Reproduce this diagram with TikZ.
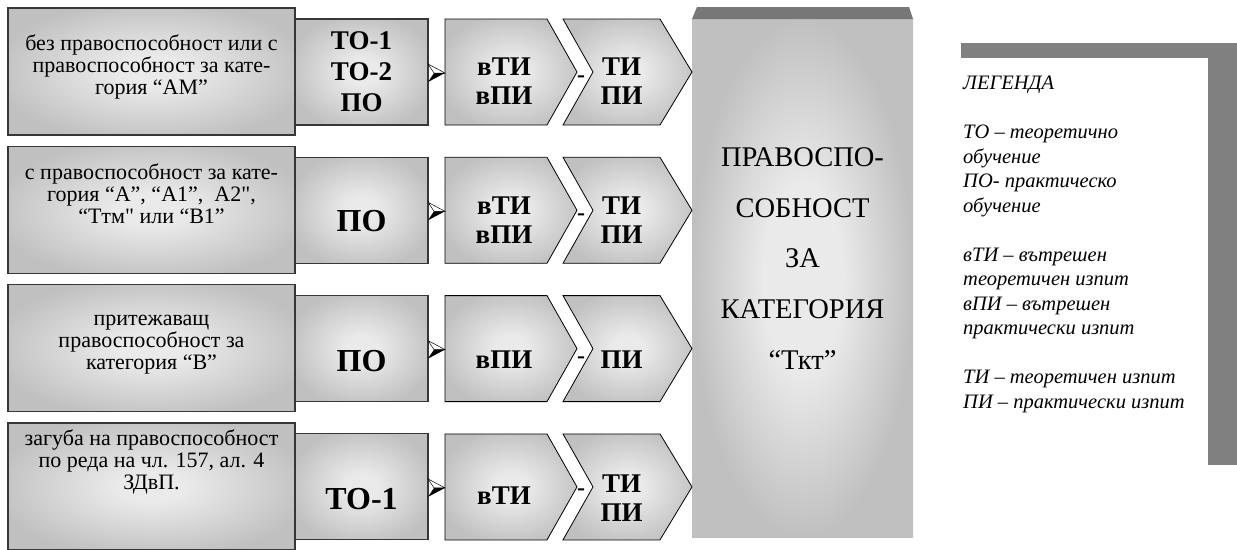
\documentclass[tikz,border=0pt]{standalone}
\usepackage{fontspec}
\setmainfont{Liberation Serif}
\newfontfamily\plainq{Liberation Serif}[Ligatures=TeXOff]
\usetikzlibrary{calc}
\definecolor{shdark}{RGB}{192,192,192}
\definecolor{shlight}{RGB}{234,234,234}
\definecolor{bordergray}{RGB}{55,55,55}
\definecolor{bandgray}{RGB}{119,119,119}
\definecolor{leggray}{RGB}{128,128,128}
\pgfdeclareradialshading{boxshade}{\pgfpoint{0bp}{0bp}}{color(0bp)=(shlight); color(6bp)=(shlight); color(28bp)=(shdark); color(50bp)=(shdark)}
\pgfdeclareradialshading{bigshade}{\pgfpoint{0bp}{0bp}}{color(0bp)=(shlight); color(9bp)=(shlight); color(25bp)=(shdark); color(50bp)=(shdark)}
\newcommand\chevA[1]{\shadedraw[shading=boxshade, draw=black, line width=0.8pt] (#1.north west) -- ([xshift=-30pt]#1.north east) -- (#1.east) -- ([xshift=-30pt]#1.south east) -- (#1.south west) -- cycle;}
\newcommand\chevB[1]{\shadedraw[shading=boxshade, draw=black, line width=0.8pt] (#1.north west) -- ([xshift=-32pt]#1.north east) -- (#1.east) -- ([xshift=-32pt]#1.south east) -- (#1.south west) -- ([xshift=30pt]#1.west) -- cycle;}
\newcommand\arrowhd[2]{%
  \filldraw[fill=white, draw=black, line width=0.5pt] ([yshift=8pt]#1.east) -- ([yshift=-1pt]#2.west) -- ([xshift=6pt,yshift=-1pt]#1.east) -- cycle;
  \fill[black] ([xshift=6pt,yshift=-1pt]#1.east) -- ([yshift=-1pt]#2.west) -- ([yshift=-10pt]#1.east) -- cycle;}
\tikzset{
  leftbox/.style={draw=bordergray, line width=1.3pt, shade, shading=boxshade, minimum width=287pt, minimum height=127pt, inner sep=0pt, outer sep=0pt},
  lefttext/.style={align=center, inner sep=0pt, font=\fontsize{22}{22}\selectfont},
  tobox/.style={draw=bordergray, line width=1.1pt, shade, shading=boxshade, minimum width=133pt, minimum height=106pt, inner sep=0pt, outer sep=0pt},
  totext/.style={align=center, inner sep=0pt, font=\bfseries\fontsize{32}{31}\selectfont},
  carrierA/.style={minimum width=132pt, minimum height=106pt, inner sep=0pt, outer sep=0pt},
  carrierB/.style={minimum width=129pt, minimum height=106pt, inner sep=0pt, outer sep=0pt},
  chevtext/.style={align=center, inner sep=0pt, font=\bfseries\fontsize{27}{29}\selectfont},
  dashtext/.style={inner sep=0pt, anchor=base, font=\bfseries\fontsize{24}{24}\selectfont},
  bigbox/.style={shade, shading=bigshade, minimum width=221pt, minimum height=518pt, inner sep=0pt, outer sep=0pt},
  bigtext/.style={align=center, inner sep=0pt, font=\fontsize{28.5}{50.7}\selectfont},
  legtext/.style={align=left, inner sep=0pt, anchor=base west, font=\itshape\fontsize{20.5}{24.5}\selectfont}
}
\begin{document}
\begin{tikzpicture}[x=1pt,y=-1pt]
\useasboundingbox (0,0) rectangle (1237,549);
% big box
\node[bigbox] (G) at (802.5,278) {};
\fill[bandgray] (G.north west) -- ([xshift=5pt,yshift=12pt]G.north west) -- ([xshift=-4pt,yshift=12pt]G.north east) -- (G.north east) -- cycle;
\node[bigtext] (Gt) at (802.5,258.5) {ПРАВОСПО-\\СОБНОСТ\\ЗА\\КАТЕГОРИЯ\\“Ткт”};
% legend
\fill[leggray] (961,43) rectangle (1237,58);
\fill[leggray] (1208,43) rectangle (1237,465);
\node[legtext] (leg) at (963,408) {ЛЕГЕНДА\\[24.5pt]ТО – теоретично\\обучение\\ПО- практическо\\обучение\\[24.5pt]вТИ – вътрешен\\теоретичен изпит\\вПИ – вътрешен\\практически изпит\\[24.5pt]ТИ – теоретичен изпит\\ПИ – практически изпит};
% row 1
\node[leftbox] (L1) at (151.5,71.5) {};
\node[lefttext] (L1t) at ($(L1)+(0,-5)$) {без правоспособност или с\\правоспособност за кате-\\гория “АМ”};
\node[tobox] (T1) at (361.5,72) {};
\node[totext, font=\bfseries\fontsize{27}{31}\selectfont] (T1t) at (T1) {ТО-1\\ТО-2\\ПО};
\node[carrierA] (A1) at (511,72) {};
\node[carrierB] (B1) at (627.5,72) {};
\chevA{A1}\chevB{B1}
\node[chevtext] (A1t) at ($(A1)+(-7,9.5)$) {вТИ\\вПИ};
\node[chevtext] (B1t) at ($(B1)+(-6,9.5)$) {ТИ\\ПИ};
\arrowhd{T1}{A1}
\node[dashtext] (D1) at ($(A1.east)+(4,10.4)$) {-};
% row 2
\node[leftbox] (L2) at (151.5,209.8) {};
\node[lefttext] (L2t) at ($(L2)+(0,-16)$) {с правоспособност за кате-\\гория “А”, “А1”,\ \ А2{\plainq"},\\“Ттм{\plainq"} или “В1”};
\node[tobox] (T2) at (361.5,210.3) {};
\node[totext] (T2t) at ($(T2)+(0,11)$) {ПО};
\node[carrierA] (A2) at (511,210.3) {};
\node[carrierB] (B2) at (627.5,210.3) {};
\chevA{A2}\chevB{B2}
\node[chevtext] (A2t) at ($(A2)+(-7,9.5)$) {вТИ\\вПИ};
\node[chevtext] (B2t) at ($(B2)+(-6,9.5)$) {ТИ\\ПИ};
\arrowhd{T2}{A2}
\node[dashtext] (D2) at ($(A2.east)+(4,10.4)$) {-};
% row 3
\node[leftbox] (L3) at (151.5,348.1) {};
\node[lefttext] (L3t) at ($(L3)+(0,-3)$) {притежаващ\\правоспособност за\\категория “В”};
\node[tobox] (T3) at (361.5,348.6) {};
\node[totext] (T3t) at ($(T3)+(0,12)$) {ПО};
\node[carrierA] (A3) at (511,348.6) {};
\node[carrierB] (B3) at (627.5,348.6) {};
\chevA{A3}\chevB{B3}
\node[chevtext] (A3t) at ($(A3)+(-7,11)$) {вПИ};
\node[chevtext] (B3t) at ($(B3)+(-6,11)$) {ПИ};
\arrowhd{T3}{A3}
\node[dashtext] (D3) at ($(A3.east)+(4,14.4)$) {-};
% row 4
\node[leftbox] (L4) at (151.5,486.4) {};
\node[lefttext] (L4t) at ($(L4)+(0,-24)$) {загуба на правоспособност\\по реда на чл. 157, ал. 4\\ЗДвП.};
\node[tobox] (T4) at (361.5,486.9) {};
\node[totext] (T4t) at ($(T4)+(0,12)$) {ТО-1};
\node[carrierA] (A4) at (511,486.9) {};
\node[carrierB] (B4) at (627.5,486.9) {};
\chevA{A4}\chevB{B4}
\node[chevtext] (A4t) at ($(A4)+(-7,9)$) {вТИ};
\node[chevtext] (B4t) at ($(B4)+(-6,11)$) {ТИ\\ПИ};
\arrowhd{T4}{A4}
\node[dashtext] (D4) at ($(A4.east)+(4,8.4)$) {-};
\end{tikzpicture}
\end{document}
